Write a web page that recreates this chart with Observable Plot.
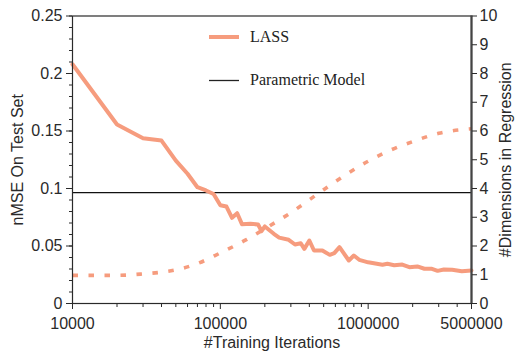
<!DOCTYPE html>
<html>
<head>
<meta charset="utf-8">
<script src="https://cdn.jsdelivr.net/npm/d3@7"></script>
<script src="https://cdn.jsdelivr.net/npm/@observablehq/plot@0.6"></script>
<style>
  html, body { margin: 0; padding: 0; background: #fff; }
  #wrap { position: relative; width: 518px; height: 352px; }
  #legend { position: absolute; left: 0; top: 0; pointer-events: none; }
</style>
</head>
<body>
<div id="wrap"></div>
<script>
// ---- data ----
const lassIters = [10000, 20000, 30000, 40000, 50000, 60000, 70000, 80000, 90000, 100000,
  110000, 120000, 130000, 140000, 160000, 180000, 190000, 200000, 230000, 250000,
  290000, 320000, 350000, 370000, 400000, 430000, 490000, 550000, 590000, 640000,
  740000, 800000, 870000, 1000000, 1250000, 1350000, 1500000, 1700000, 1900000, 2150000,
  2400000, 2700000, 2950000, 3250000, 3700000, 4300000, 5000000];
const lassNmse = [0.208, 0.1557, 0.1437, 0.1417, 0.1243, 0.1128, 0.1011, 0.0983, 0.0952, 0.0855,
  0.0843, 0.0745, 0.0785, 0.0690, 0.0693, 0.0687, 0.0629, 0.0670, 0.0606, 0.0573,
  0.0554, 0.0513, 0.0524, 0.0475, 0.0548, 0.0461, 0.0461, 0.0423, 0.0438, 0.0490,
  0.0374, 0.0417, 0.0380, 0.0358, 0.0337, 0.0345, 0.0333, 0.0339, 0.0316, 0.0322,
  0.0302, 0.0302, 0.0284, 0.0296, 0.0293, 0.0281, 0.0287];

const dimIters = [10000, 20000, 30000, 40000, 50000, 70000, 100000, 150000, 200000, 300000,
  500000, 700000, 1000000, 1500000, 2000000, 3000000, 5000000];
const dimValues = [0.98, 0.98, 1.03, 1.09, 1.17, 1.39, 1.76, 2.22, 2.60, 3.16,
  3.96, 4.47, 4.95, 5.39, 5.63, 5.92, 6.08];

const parametricNmse = 0.0965;

const xDomain = [10000, 5000000];
const xMajorTicks = [10000, 100000, 1000000, 5000000];
const xMinorTicks = [20000, 30000, 40000, 50000, 60000, 70000, 80000, 90000,
  200000, 300000, 400000, 500000, 600000, 700000, 800000, 900000,
  2000000, 3000000, 4000000];
const yDomain = [0, 0.25];
const yMajorTicks = [0, 0.05, 0.1, 0.15, 0.2, 0.25];
const yMinorTicks = d3.range(0, 26).map(i => i / 100);
const dimDomain = [0, 10];
const dimTicks = d3.range(0, 11);

const seriesNames = ["LASS", "Parametric Model"];
const labels = { x: "#Training Iterations", y: "nMSE On Test Set", y2: "#Dimensions in Regression" };

// ---- build ----
const salmon = "#f69c7e";
const ink = "#2a2a2a";
const k = yDomain[1] / dimDomain[1];   // maps right-axis values onto the left scale
const lass = lassIters.map((x, i) => ({ x, y: lassNmse[i] }));
const dims = dimIters.map((x, i) => ({ x, d: dimValues[i] }));

const W = 518, H = 352;
const chart = Plot.plot({
  width: W, height: H,
  marginLeft: 72, marginRight: 47, marginTop: 15.5, marginBottom: 49,
  x: { type: "log", domain: xDomain },
  y: { domain: yDomain },
  style: { fontFamily: "'Liberation Sans', Arial, sans-serif", fontSize: "16px", color: ink, background: "#fff", overflow: "visible" },
  marks: [
    Plot.line(dims, { x: "x", y: d => d.d * k, stroke: salmon, strokeWidth: 3.6, strokeDasharray: "5.5,10.5", strokeLinecap: "butt", curve: "monotone-x" }),
    Plot.ruleY([parametricNmse], { stroke: "#111", strokeWidth: 1.3 }),
    Plot.line(lass, { x: "x", y: "y", stroke: salmon, strokeWidth: 4, strokeLinejoin: "round" }),
    Plot.frame({ stroke: ink, strokeWidth: 1.2 }),
    Plot.ruleX([xDomain[1]], { stroke: "#444", strokeWidth: 2.2 }),
    Plot.axisX({ ticks: xMajorTicks, tickFormat: () => "", tickSize: 6, label: null, stroke: ink }),
    Plot.text(xMajorTicks, { x: d => d, text: d3.format("d"), frameAnchor: "bottom", dy: 20, lineAnchor: "middle", textAnchor: "middle", fontSize: 16, fill: ink }),
    Plot.axisX({ ticks: xMinorTicks, tickFormat: () => "", tickSize: 4, label: null, stroke: ink }),
    Plot.axisY({ ticks: yMajorTicks, tickFormat: d => String(+d.toFixed(2)), tickSize: 6, tickPadding: 4, label: null, stroke: ink }),
    Plot.axisY({ ticks: yMinorTicks, tickFormat: () => "", tickSize: 3, label: null, stroke: ink }),
    Plot.axisY({ anchor: "right", ticks: dimTicks.map(d => d * k), tickFormat: d => String(Math.round(d / k)), tickSize: 5, tickPadding: 3, label: null, stroke: ink }),
    Plot.text([labels.y], { frameAnchor: "left", dx: -55, rotate: -90, textAnchor: "middle", lineAnchor: "middle", fontSize: 16, fill: ink }),
    Plot.text([labels.y2], { frameAnchor: "right", dx: 34, rotate: -90, textAnchor: "middle", lineAnchor: "middle", fontSize: 16, fill: ink }),
    Plot.text([labels.x], { frameAnchor: "bottom", dy: 39, textAnchor: "middle", lineAnchor: "middle", fontSize: 16, fill: ink })
  ]
});
const wrap = document.getElementById("wrap");
wrap.appendChild(chart);

// legend overlay
const ns = "http://www.w3.org/2000/svg";
const lg = document.createElementNS(ns, "svg");
lg.setAttribute("id", "legend");
lg.setAttribute("width", W); lg.setAttribute("height", H);
const items = [
  { name: seriesNames[0], stroke: salmon, sw: 4, y: 37 },
  { name: seriesNames[1], stroke: "#222", sw: 1.3, y: 80.5 }
];
for (const it of items) {
  const l = document.createElementNS(ns, "line");
  l.setAttribute("x1", 209); l.setAttribute("x2", 239);
  l.setAttribute("y1", it.y); l.setAttribute("y2", it.y);
  l.setAttribute("stroke", it.stroke); l.setAttribute("stroke-width", it.sw);
  lg.appendChild(l);
  const t = document.createElementNS(ns, "text");
  t.setAttribute("x", 250); t.setAttribute("y", it.y + 4.5);
  t.setAttribute("font-family", "'Liberation Serif', 'Times New Roman', serif");
  t.setAttribute("font-size", "16");
  t.setAttribute("fill", "#222");
  t.textContent = it.name;
  lg.appendChild(t);
}
wrap.appendChild(lg);
</script>
</body>
</html>
